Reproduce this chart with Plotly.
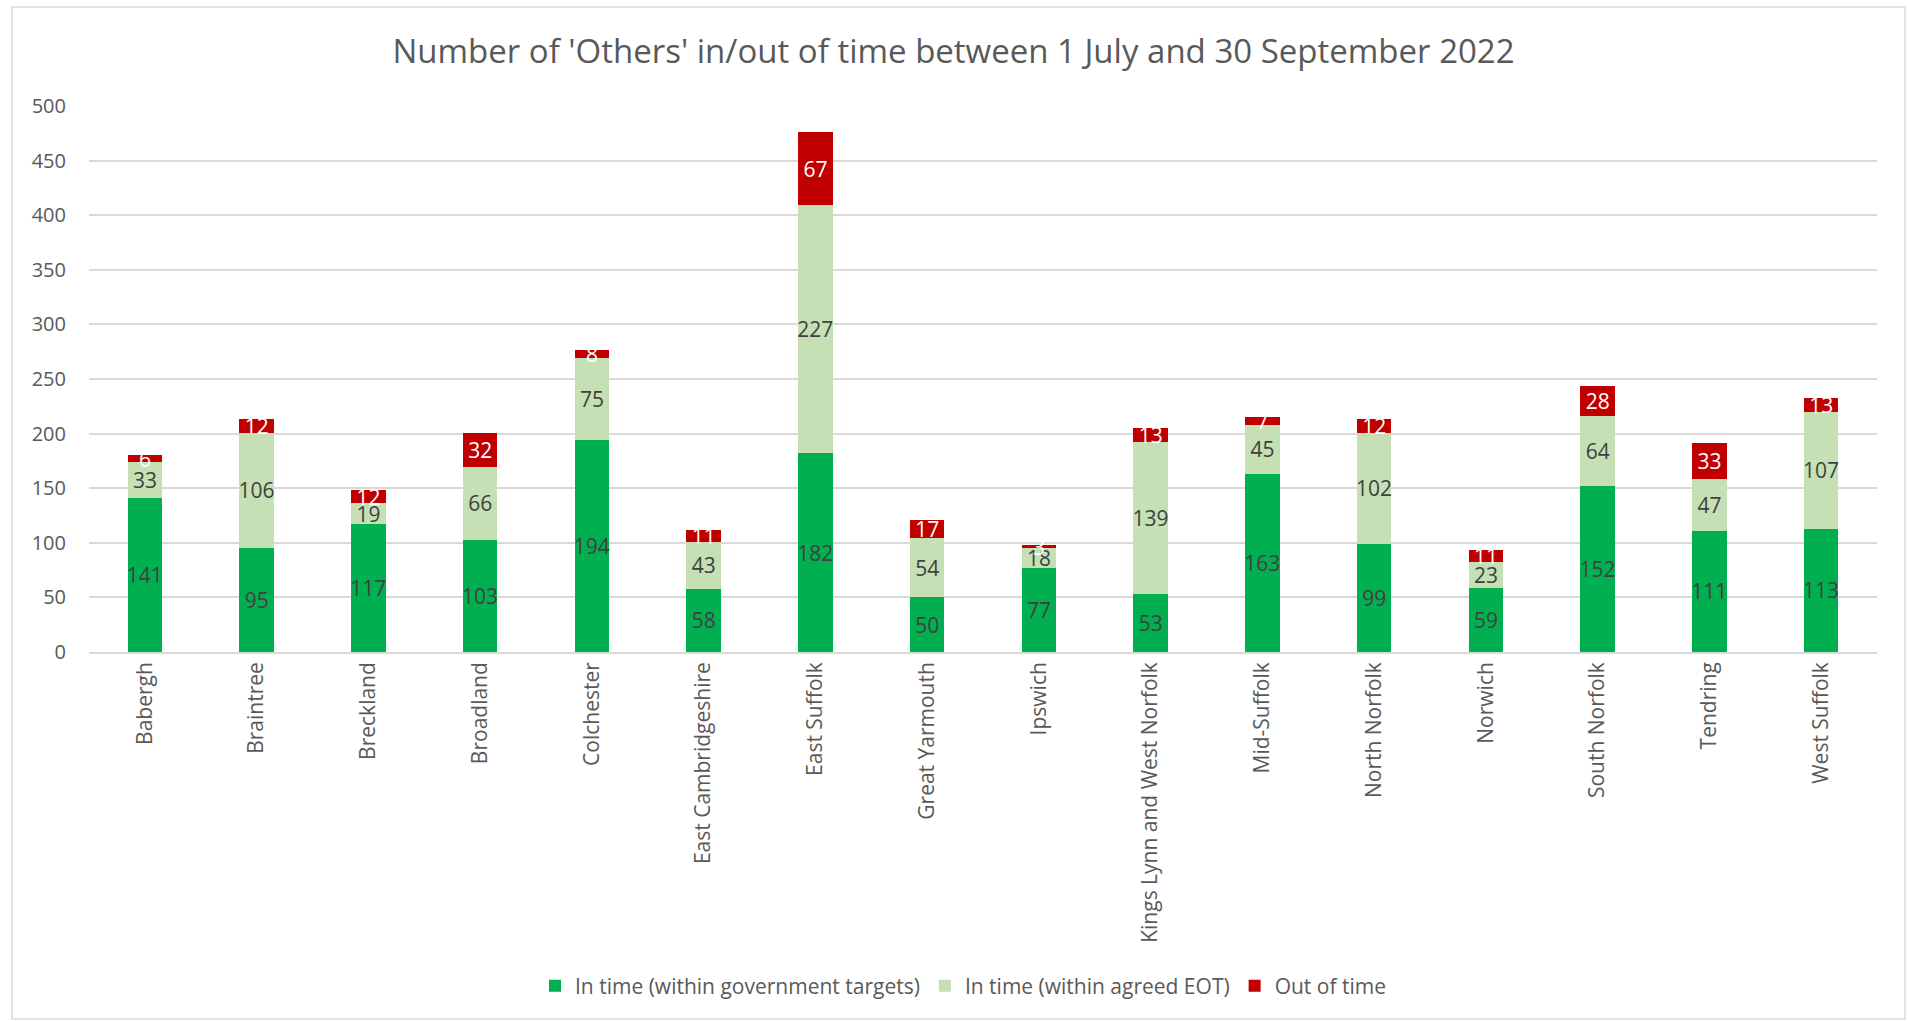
import plotly.graph_objects as go

categories = ["Babergh", "Braintree", "Breckland", "Broadland", "Colchester",
              "East Cambridgeshire", "East Suffolk", "Great Yarmouth", "Ipswich",
              "Kings Lynn and West Norfolk", "Mid-Suffolk", "North Norfolk",
              "Norwich", "South Norfolk", "Tendring", "West Suffolk"]
in_time_gov = [141, 95, 117, 103, 194, 58, 182, 50, 77, 53, 163, 99, 59, 152, 111, 113]
in_time_eot = [33, 106, 19, 66, 75, 43, 227, 54, 18, 139, 45, 102, 23, 64, 47, 107]
out_of_time = [6, 12, 12, 32, 8, 11, 67, 17, 3, 13, 7, 12, 11, 28, 33, 13]
y_ticks = [0, 50, 100, 150, 200, 250, 300, 350, 400, 450, 500]

FONT = "Open Sans, Noto Sans, sans-serif"
W, H = 1907, 1022
L, R, T, B = 89, 30, 106, 370
PW, PH = W - L - R, H - T - B

fig = go.Figure()
series = [
    ("In time (within government targets)", in_time_gov, "#00B050", "#404040"),
    ("In time (within agreed EOT)", in_time_eot, "#C5E0B4", "#404040"),
    ("Out of time", out_of_time, "#C00000", "#FFFFFF"),
]
for name, vals, col, tcol in series:
    fig.add_trace(go.Bar(
        x=categories, y=vals, name=name,
        marker=dict(color=col, line=dict(width=0)),
        text=vals, textposition="inside", insidetextanchor="middle",
        textangle=0, constraintext="none",
        textfont=dict(family=FONT, size=21, color=tcol),
        cliponaxis=False,
    ))

# outer chart border
fig.add_shape(type="rect", xref="paper", yref="paper",
              x0=(12 - L) / PW, x1=(1905 - L) / PW,
              y0=-(1019 - T - PH) / PH, y1=1 + (T - 7) / PH,
              line=dict(color="#D9D9D9", width=1.5), fillcolor="rgba(0,0,0,0)",
              layer="below")

fig.update_layout(
    width=W, height=H,
    margin=dict(l=L, r=R, t=T, b=B, autoexpand=False),
    barmode="stack", bargap=0.69,
    plot_bgcolor="white", paper_bgcolor="white",
    uniformtext=dict(minsize=21, mode="show"),
    title=dict(text="Number of 'Others' in/out of time between 1 July and 30 September 2022",
               x=0.5, xanchor="center", y=1 - 51 / H, yanchor="middle",
               font=dict(family=FONT, size=33, color="#595959")),
    font=dict(family=FONT, color="#595959"),
    showlegend=True,
    legend=dict(orientation="h", x=(963 - L) / PW, xanchor="center",
                y=-(986 - T - PH) / PH, yanchor="middle",
                font=dict(family=FONT, size=21, color="#595959"),
                itemwidth=30, traceorder="normal"),
    xaxis=dict(tickangle=-90, tickfont=dict(family=FONT, size=21, color="#595959"),
               showline=True, linecolor="#D9D9D9", linewidth=1.5,
               ticks="", showgrid=False),
    yaxis=dict(range=[0, 500], tickvals=y_ticks,
               tickfont=dict(family=FONT, size=20, color="#595959"),
               showgrid=True, gridcolor="#D9D9D9", gridwidth=1.5,
               zeroline=False, showline=False, ticks="", ticklabelstandoff=22),
)

fig.write_html("out.html", config={"displayModeBar": False},
               post_script="document.body.style.margin='0';")
